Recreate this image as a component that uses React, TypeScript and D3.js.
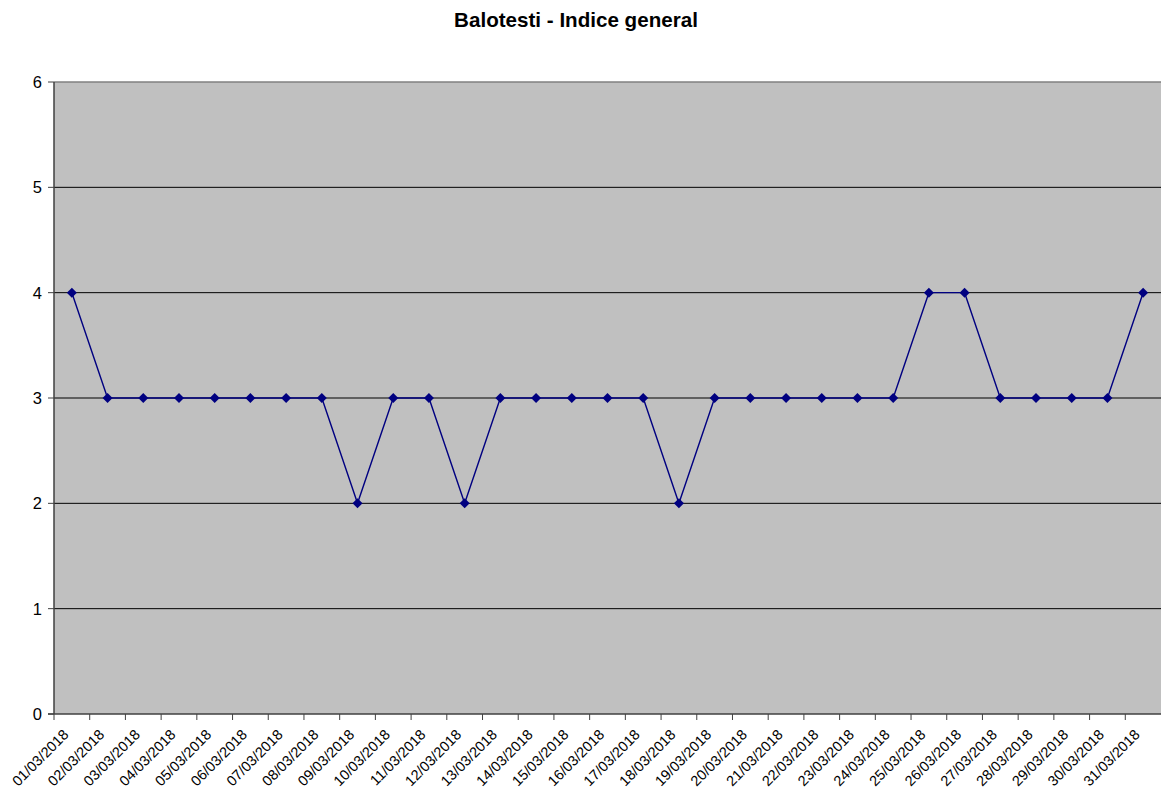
import React from "react";
import * as d3 from "d3";

const title = "Balotesti - Indice general";
const dates = [
  "01/03/2018","02/03/2018","03/03/2018","04/03/2018","05/03/2018","06/03/2018","07/03/2018","08/03/2018",
  "09/03/2018","10/03/2018","11/03/2018","12/03/2018","13/03/2018","14/03/2018","15/03/2018","16/03/2018",
  "17/03/2018","18/03/2018","19/03/2018","20/03/2018","21/03/2018","22/03/2018","23/03/2018","24/03/2018",
  "25/03/2018","26/03/2018","27/03/2018","28/03/2018","29/03/2018","30/03/2018","31/03/2018",
];
const values = [4,3,3,3,3,3,3,3,2,3,3,2,3,3,3,3,3,2,3,3,3,3,3,3,4,4,3,3,3,3,4];
const yTicks = [0,1,2,3,4,5,6];

const W = 1161, H = 789;
const left = 54, right = 1161, top = 82, bottom = 714;

export default function App() {
  const x = d3.scaleBand<string>().domain(dates).range([left, right]).paddingInner(0).paddingOuter(0);
  const y = d3.scaleLinear().domain([0, 6]).range([bottom, top]);
  const cx = (d: string) => (x(d) as number) + x.bandwidth() / 2;
  const line = d3.line<number>().x((_, i) => cx(dates[i])).y((v) => y(v));
  const diamond = d3.symbol().type(d3.symbolDiamond2).size(64)() as string;
  const font = "Liberation Sans, Arial, sans-serif";
  const boundaries = dates.map((d) => x(d) as number);

  return (
    <svg width={W} height={H} style={{ position: "absolute", left: 0, top: 0, background: "#fff" }}>
      <text x={576} y={27} textAnchor="middle" fontFamily={font} fontWeight="bold" fontSize={20.6}>{title}</text>
      <rect x={left} y={top} width={right - left} height={bottom - top} fill="#C0C0C0" />
      {yTicks.filter((t) => t > 0 && t < 6).map((t) => (
        <line key={"g" + t} x1={left} x2={right} y1={y(t)} y2={y(t)} stroke="#000" strokeWidth={1} />
      ))}
      <line x1={left} x2={right} y1={y(6)} y2={y(6)} stroke="#808080" strokeWidth={1.5} />
      {yTicks.map((t) => (
        <g key={"y" + t}>
          <line x1={left - 6} x2={left} y1={y(t)} y2={y(t)} stroke="#404040" strokeWidth={1} />
          <text x={42} y={y(t)} dy="0.36em" textAnchor="end" fontFamily={font} fontSize={16.5}>{t}</text>
        </g>
      ))}
      {boundaries.map((b, i) => (
        <line key={"t" + i} x1={b} x2={b} y1={bottom} y2={bottom + 6} stroke="#404040" strokeWidth={1} />
      ))}
      <line x1={left} x2={left} y1={top} y2={bottom} stroke="#404040" strokeWidth={1.5} />
      <line x1={left - 6} x2={right} y1={bottom} y2={bottom} stroke="#404040" strokeWidth={1.5} />
      {dates.map((d) => (
        <text key={"x" + d} transform={`translate(${cx(d) - 6},${732}) rotate(-45)`} dy="0.35em" textAnchor="end" fontFamily={font} fontSize={14.5}>{d}</text>
      ))}
      <path d={line(values) as string} fill="none" stroke="#000080" strokeWidth={1.4} />
      {values.map((v, i) => (
        <path key={"p" + i} d={diamond} transform={`translate(${cx(dates[i])},${y(v)})`} fill="#000080" />
      ))}
    </svg>
  );
}
